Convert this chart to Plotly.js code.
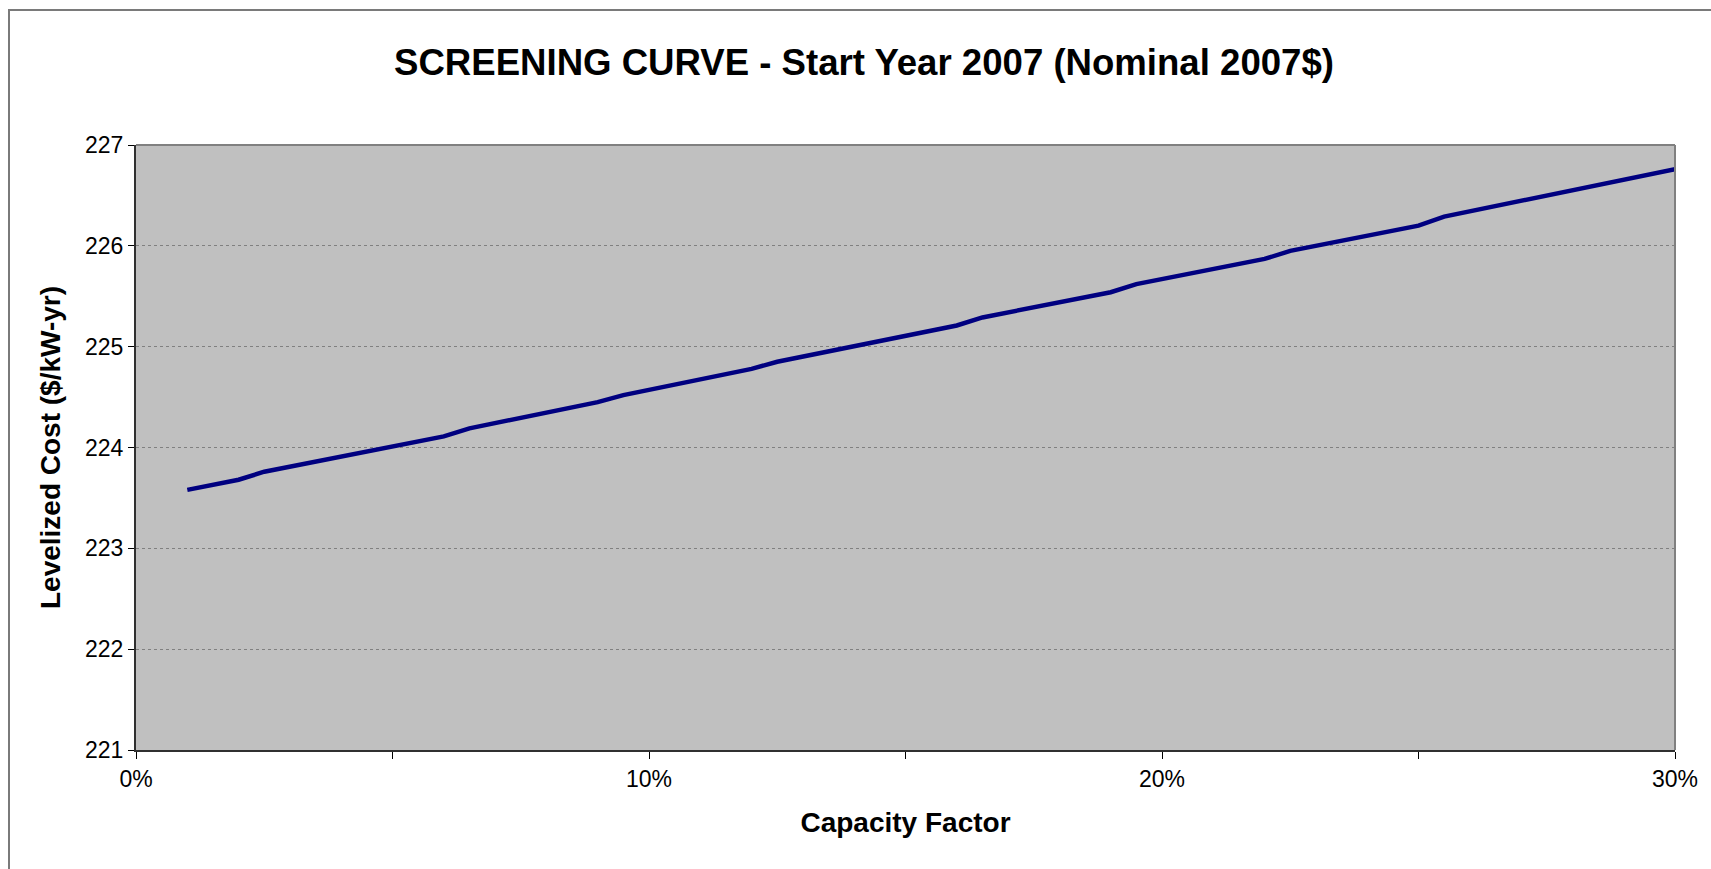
<!DOCTYPE html>
<html>
<head>
<meta charset="utf-8">
<script src="https://cdn.plot.ly/plotly-3.0.1.min.js"></script>
<style>
html, body { margin: 0; padding: 0; background: #ffffff; }
#chart { width: 1711px; height: 869px; position: absolute; left: 0; top: 0; }
#frame { position: absolute; left: 8px; top: 9px; width: 1720px; height: 880px;
  border-left: 2px solid #7a7a7a; border-top: 2px solid #7a7a7a; pointer-events: none; }
</style>
</head>
<body>
<div id="chart"></div>
<div id="frame"></div>
<script>
// Capacity factor (fraction) and levelized cost ($/kW-yr)
const capacityFactor = [0.01, 0.02, 0.025, 0.06, 0.065, 0.09, 0.095, 0.12, 0.125, 0.16, 0.165, 0.19, 0.195, 0.22, 0.225, 0.25, 0.255, 0.29, 0.30];
const levelizedCost  = [223.58, 223.68, 223.76, 224.11, 224.19, 224.45, 224.52, 224.78, 224.85, 225.21, 225.29, 225.54, 225.62, 225.87, 225.95, 226.20, 226.29, 226.65, 226.76];

const xTickVals = [0, 0.05, 0.10, 0.15, 0.20, 0.25, 0.30];
const xTickText = ['0%', '', '10%', '', '20%', '', '30%'];
const yTickVals = [221, 222, 223, 224, 225, 226, 227];

const titleText = 'SCREENING CURVE - Start Year 2007 (Nominal 2007$)';
const xTitle = 'Capacity Factor';
const yTitle = 'Levelized Cost ($/kW-yr)';

const FONT = 'Liberation Sans, Arial, sans-serif';

const trace = {
  x: capacityFactor,
  y: levelizedCost,
  type: 'scatter',
  mode: 'lines',
  line: { color: '#000080', width: 4.5 },
  hoverinfo: 'skip'
};

const layout = {
  width: 1711,
  height: 869,
  margin: { l: 136, r: 36, t: 145, b: 119 },
  paper_bgcolor: '#ffffff',
  plot_bgcolor: '#c0c0c0',
  showlegend: false,
  font: { family: FONT, color: '#000000' },
  title: {
    text: titleText,
    font: { family: FONT, size: 36.6, weight: 'bold', color: '#000000' },
    x: 864 / 1711, xanchor: 'center', xref: 'container',
    y: 1 - 62 / 869, yanchor: 'middle', yref: 'container'
  },
  xaxis: {
    range: [0, 0.30],
    tickvals: xTickVals,
    ticktext: xTickText,
    ticks: 'outside', ticklen: 7, tickwidth: 1, tickcolor: '#000000',
    showgrid: false, zeroline: false,
    showline: true, linecolor: '#303030', linewidth: 2,
    tickfont: { family: FONT, size: 23, color: '#000000' },
    title: { text: xTitle, font: { family: FONT, size: 28, weight: 'bold', color: '#000000' }, standoff: 22 }
  },
  yaxis: {
    range: [221, 227],
    tickvals: yTickVals,
    ticks: 'outside', ticklen: 6, tickwidth: 1, tickcolor: '#000000',
    showgrid: true, gridcolor: '#808080', gridwidth: 1, griddash: 'dot',
    zeroline: false,
    showline: true, linecolor: '#303030', linewidth: 2,
    tickfont: { family: FONT, size: 23, color: '#000000' },
    title: { text: yTitle, font: { family: FONT, size: 28, weight: 'bold', color: '#000000' }, standoff: 16 }
  },
  shapes: [
    { type: 'line', xref: 'paper', yref: 'paper', x0: 0, x1: 1, y0: 1, y1: 1, line: { color: '#808080', width: 2 }, layer: 'above' },
    { type: 'line', xref: 'paper', yref: 'paper', x0: 1, x1: 1, y0: 0, y1: 1, line: { color: '#808080', width: 2 }, layer: 'above' }
  ]
};

Plotly.newPlot('chart', [trace], layout, { displayModeBar: false, staticPlot: true });
</script>
</body>
</html>
